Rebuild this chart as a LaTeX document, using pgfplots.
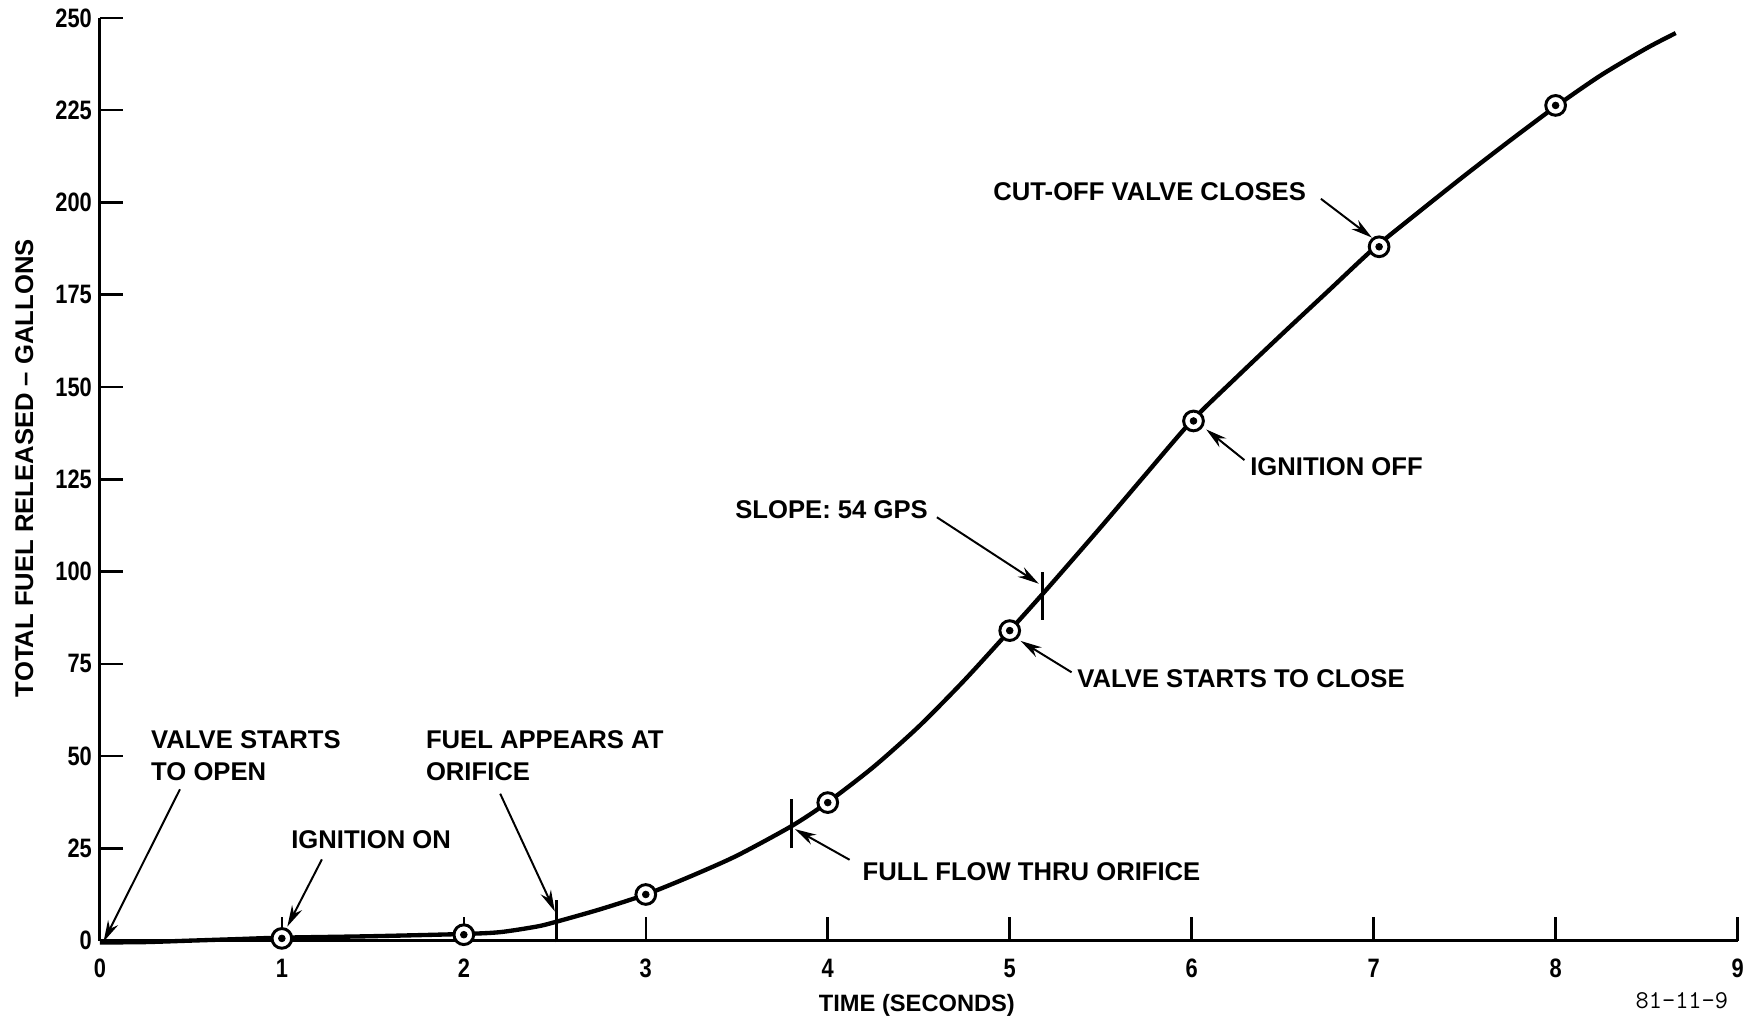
\documentclass[border=0pt]{standalone}
\usepackage{pgfplots}
\pgfplotsset{compat=1.18}
\usepackage{fontspec}
\setmainfont{Liberation Sans}
\newfontfamily\condfont[FakeStretch=0.82]{Liberation Sans}
\usetikzlibrary{arrows.meta}
\begin{document}
\begin{tikzpicture}
\path[use as bounding box] (0,0) rectangle (31.36cm,18.22cm);
\begin{axis}[
  at={(1.78cm,1.46cm)}, anchor=south west,
  scale only axis, width=29.18cm, height=16.44cm,
  xmin=0, xmax=9, ymin=0, ymax=250,
  axis lines=left,
  axis line style={line width=1.6pt,-},
  xtick={0,1,...,9}, ytick={0,25,...,250},
  tick align=inside,
  major tick length=0.42cm,
  tick style={line width=1.3pt,black},
  ticklabel style={font=\condfont\fontsize{13.5}{15}\selectfont\bfseries},
  xticklabel style={yshift=-0.2cm},
  yticklabel style={xshift=-0.02cm},
  /pgf/number format/assume math mode=true,
  clip=false,
]
\addplot[line width=2.2pt, smooth, tension=0.45] coordinates {
(0,-0.5) (0.25,-0.4) (0.5,0) (0.75,0.4) (1,0.8) (1.5,1.2) (2,1.8) (2.2,2.3) (2.4,3.8) (2.5,5)
(2.75,8.5) (3,12.5) (3.25,17.5) (3.5,23) (3.8,31) (4,37.5) (4.25,47) (4.5,58) (4.75,70.5) (5,84)
(5.2,95) (5.5,112) (5.75,126.5) (6,140.8) (6.25,152.8) (6.5,164.5) (6.75,176) (7,187.5)
(7.25,197.5) (7.5,207.3) (7.75,216.8) (8,226) (8.25,234.5) (8.5,241.8) (8.66,245.9)
};
\addplot[only marks, mark=*, mark size=5pt, mark options={fill=white, draw=black, line width=1.5pt}] coordinates {
(1,0.6) (2,1.6) (3,12.5) (4,37.4) (5,84) (6.01,140.8) (7.03,188) (8,226.3)
};
\addplot[only marks, mark=*, mark size=1.7pt, mark options={fill=black, draw=black}] coordinates {
(1,0.6) (2,1.6) (3,12.5) (4,37.4) (5,84) (6.01,140.8) (7.03,188) (8,226.3)
};
% marker ticks on the curve
\addplot[line width=1.3pt] coordinates {(2.51,-0.5) (2.51,11)};
\addplot[line width=1.3pt] coordinates {(3.8,25) (3.8,38.5)};
\addplot[line width=1.3pt] coordinates {(5.18,87) (5.18,100)};

\tikzset{lab/.style={font=\fontsize{13}{16}\selectfont\bfseries, inner sep=0pt, align=left},
         arr/.style={line width=1pt, -{Stealth[length=0.38cm,width=0.2cm]}}}
\node[lab, anchor=north west] at (axis cs:0.28,57) {VALVE STARTS\\TO OPEN};
\draw[arr] (axis cs:0.44,41) -- (axis cs:0.02,-0.3);
\node[lab, anchor=west] at (axis cs:1.05,27.4) {IGNITION ON};
\draw[arr] (axis cs:1.22,22) -- (axis cs:1.03,3.8);
\node[lab, anchor=north west] at (axis cs:1.79,57) {FUEL APPEARS AT\\ORIFICE};
\draw[arr] (axis cs:2.2,39.8) -- (axis cs:2.5,7.9);
\node[lab, anchor=west] at (axis cs:4.19,18.6) {FULL FLOW THRU ORIFICE};
\draw[arr] (axis cs:4.12,21.9) -- (axis cs:3.82,30.2);
\node[lab, anchor=west] at (axis cs:3.49,116.8) {SLOPE: 54 GPS};
\draw[arr] (axis cs:4.6,114.7) -- (axis cs:5.16,96.7);
\node[lab, anchor=west] at (axis cs:5.37,70.9) {VALVE STARTS TO CLOSE};
\draw[arr] (axis cs:5.34,72.7) -- (axis cs:5.06,81.2);
\node[lab, anchor=west] at (axis cs:6.32,128.3) {IGNITION OFF};
\draw[arr] (axis cs:6.29,130.2) -- (axis cs:6.08,138.5);
\node[lab, anchor=east] at (axis cs:6.63,202.9) {CUT-OFF VALVE CLOSES};
\draw[arr] (axis cs:6.71,201) -- (axis cs:6.99,190.5);

\node[font=\fontsize{12}{14}\selectfont\bfseries] at (axis cs:4.49,-17.6) {TIME (SECONDS)};
\node[font=\fontsize{13}{16}\selectfont\bfseries, rotate=90] at (axis cs:-0.415,128) {TOTAL FUEL RELEASED -- GALLONS};
\node[font=\fontsize{13}{16}\selectfont\ttfamily, anchor=east, inner sep=0pt] at (axis cs:8.95,-16.4) {81-11-9};
\end{axis}
\end{tikzpicture}
\end{document}
